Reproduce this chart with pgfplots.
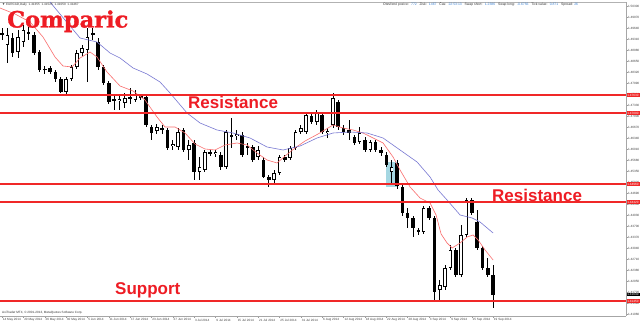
\documentclass[border=0pt]{standalone}
\usepackage{fontspec}
\setmainfont{Liberation Sans}
\newfontfamily\logofont[BoldFeatures={FakeBold=1.2}]{DejaVu Serif}
\usepackage{pgfplots}
\usepackage{pgfplotstable}
\pgfplotsset{compat=1.18}
\definecolor{mtred}{RGB}{238,28,36}
\definecolor{lvl}{RGB}{240,40,40}
\definecolor{maRed}{RGB}{250,110,110}
\definecolor{maBlue}{RGB}{120,120,210}
\definecolor{hl}{RGB}{150,208,222}
\definecolor{hdrblue}{RGB}{60,130,210}

% bearish candles: i open high low close
\pgfplotstableread{
i o h l c
0 1.4949 1.4964 1.4928 1.4943
2 1.4934 1.4949 1.4877 1.4889
5 1.4952 1.4967 1.4928 1.4946
6 1.4943 1.4952 1.4883 1.4889
7 1.4892 1.4898 1.4832 1.4838
8 1.48395 1.4850 1.4826 1.48365
9 1.4844 1.4850 1.4826 1.4832
10 1.4832 1.4838 1.4802 1.4811
11 1.4811 1.4817 1.4769 1.4772
17 1.4949 1.4964 1.4928 1.4943
18 1.4922 1.4934 1.4838 1.4847
19 1.4847 1.4853 1.4793 1.4799
20 1.4799 1.4805 1.4736 1.4742
21 1.4751 1.4763 1.4718 1.4745
24 1.4757 1.4784 1.4736 1.4751
26 1.4760 1.4766 1.4748 1.4754
27 1.4757 1.4763 1.4667 1.4673
28 1.4667 1.4673 1.4628 1.4649
30 1.4664 1.4673 1.4646 1.4658
31 1.4658 1.4664 1.4598 1.4604
34 1.4658 1.4664 1.4592 1.4598
36 1.4619 1.4628 1.4508 1.4532
39 1.4592 1.4598 1.4580 1.4586
41 1.4583 1.4592 1.4538 1.4547
43 1.4643 1.4694 1.4604 1.4637
45 1.4643 1.4652 1.4577 1.4583
46 1.4610 1.4619 1.4583 1.4604
47 1.4607 1.4613 1.4562 1.4568
49 1.4568 1.4577 1.4514 1.4517
50 1.4517 1.4523 1.4487 1.4508
53 1.4577 1.4583 1.4562 1.4568
58 1.4700 1.4712 1.4676 1.4682
60 1.4703 1.4712 1.4646 1.4652
63 1.4742 1.4748 1.4658 1.4667
64 1.4664 1.4673 1.4643 1.4652
65 1.4658 1.4688 1.4628 1.4649
66 1.4637 1.4643 1.4613 1.4619
68 1.4628 1.4637 1.4592 1.4598
70 1.4622 1.4628 1.4592 1.4598
71 1.4598 1.4607 1.4580 1.4589
72 1.4583 1.4592 1.4547 1.4553
74 1.4559 1.4568 1.4481 1.4490
75 1.4487 1.4493 1.4400 1.4409
76 1.4409 1.4424 1.4364 1.4394
77 1.4394 1.4400 1.4337 1.4364
78 1.4358 1.4364 1.4343 1.4352
80 1.4424 1.4430 1.4388 1.4394
81 1.4394 1.4400 1.4142 1.4172
85 1.4298 1.4304 1.4217 1.4223
88 1.4448 1.4454 1.4403 1.4409
89 1.4382 1.4418 1.4298 1.4304
90 1.4304 1.4310 1.4238 1.4244
91 1.4244 1.4274 1.4217 1.4223
92 1.4223 1.4253 1.4124 1.4163
}\bear

% bullish candles: i open high low close
\pgfplotstableread{
i o h l c
1 1.4913 1.4964 1.4859 1.4943
3 1.4892 1.4958 1.4874 1.4937
4 1.4922 1.4973 1.4907 1.4958
12 1.4772 1.4817 1.4763 1.4811
13 1.4811 1.4853 1.4805 1.4847
14 1.4847 1.4898 1.4841 1.4889
15 1.4889 1.4913 1.4880 1.4904
16 1.4898 1.4964 1.4802 1.4937
22 1.4745 1.4760 1.4718 1.4751
23 1.4739 1.4769 1.4724 1.4754
25 1.4748 1.4778 1.4742 1.4763
29 1.4655 1.4676 1.4646 1.4667
32 1.4610 1.4628 1.4598 1.4616
33 1.4607 1.4664 1.4598 1.4652
35 1.4598 1.4628 1.4568 1.4613
37 1.4532 1.4577 1.4508 1.4547
38 1.4538 1.4598 1.4532 1.4592
40 1.4586 1.4598 1.4577 1.4592
42 1.4547 1.4658 1.4541 1.4652
44 1.4640 1.4658 1.4628 1.4646
48 1.4577 1.4610 1.4568 1.4598
51 1.4508 1.4538 1.4499 1.4529
52 1.4529 1.4583 1.4523 1.4577
54 1.4574 1.4610 1.4568 1.4604
55 1.4604 1.4658 1.4598 1.4652
56 1.4652 1.4673 1.4646 1.4664
57 1.4652 1.4712 1.4646 1.4703
59 1.4682 1.4718 1.4673 1.4709
61 1.4649 1.4664 1.4634 1.4655
62 1.4673 1.4769 1.4664 1.4754
67 1.4622 1.4667 1.4616 1.4649
69 1.4598 1.4628 1.4592 1.4622
73 1.4532 1.4568 1.4493 1.4547
79 1.4352 1.4430 1.4346 1.4424
82 1.4178 1.4208 1.4148 1.4193
83 1.4187 1.4253 1.4178 1.4244
84 1.4244 1.4313 1.4238 1.4298
86 1.4223 1.4373 1.4217 1.4343
87 1.4343 1.4454 1.4337 1.4448
}\bull

\begin{document}
\begin{tikzpicture}
\useasboundingbox (0pt,0pt) rectangle (640pt,323pt);
\fill[white] (0pt,0pt) rectangle (640pt,323pt);
\begin{axis}[
  scale only axis, width=626pt, height=314pt,
  anchor=south west, at={(0pt,7pt)},
  xmin=-0.375, xmax=116.9, ymin=1.4100, ymax=1.5042,
  clip mode=individual,
  axis line style={draw=gray!70, line width=0.6pt},
  axis y line*=right, axis x line*=bottom,
  yticklabel pos=right,
  tick align=outside, major tick length=2pt,
  tick style={gray!80, line width=0.4pt},
  ytick={1.5030,1.4997,1.4964,1.4931,1.4898,1.4865,1.4832,1.4799,1.4766,1.4733,1.4700,1.4667,1.4634,1.4601,1.4568,1.4535,1.4502,1.4469,1.4436,1.4403,1.4370,1.4337,1.4304,1.4271,1.4238,1.4205,1.4172,1.4139,1.4106},
  yticklabel style={font=\fontsize{3.1}{3.5}\selectfont, text=black!75, inner sep=0.4pt, xshift=-0.6pt,
    /pgf/number format/.cd, fixed, precision=5, zerofill, assume math mode=true},
  xtick={0,4,...,92},
  xticklabels={14 May 2014,20 May 2014,26 May 2014,30 May 2014,5 Jun 2014,11 Jun 2014,17 Jun 2014,23 Jun 2014,27 Jun 2014,3 Jul 2014,9 Jul 2014,15 Jul 2014,21 Jul 2014,25 Jul 2014,31 Jul 2014,6 Aug 2014,12 Aug 2014,18 Aug 2014,22 Aug 2014,28 Aug 2014,3 Sep 2014,9 Sep 2014,15 Sep 2014,19 Sep 2014},
  xticklabel style={font=\fontsize{3.1}{3.5}\selectfont, text=black!75, anchor=north west, inner sep=0.4pt, xshift=0.3pt, yshift=-0.2pt},
]
% top frame line
\addplot[gray!60, line width=0.6pt, forget plot] coordinates {(-0.375,1.5040) (116.9,1.5040)};
% highlight box
\addplot[fill=hl, draw=none, opacity=0.85, forget plot] coordinates {(71.95,1.4562) (74.05,1.4562) (74.05,1.4487) (71.95,1.4487)} -- cycle;
% wicks
\addplot[draw=none, mark=none, forget plot, error bars/.cd, y dir=plus, y explicit, error mark=none,
  error bar style={solid, draw=black, line width=0.9pt}]
  table[x=i, y=l, y error plus expr=\thisrow{h}-\thisrow{l}] {\bear};
\addplot[draw=none, mark=none, forget plot, error bars/.cd, y dir=plus, y explicit, error mark=none,
  error bar style={solid, draw=black, line width=0.9pt}]
  table[x=i, y=l, y error plus expr=\thisrow{h}-\thisrow{l}] {\bull};
% bear bodies
\addplot[draw=none, mark=none, forget plot, error bars/.cd, y dir=plus, y explicit, error mark=none,
  error bar style={solid, draw=black, line width=3.6pt}]
  table[x=i, y=c, y error plus expr=\thisrow{o}-\thisrow{c}] {\bear};
% bull bodies (outline + white fill)
\addplot[draw=none, mark=none, forget plot, error bars/.cd, y dir=plus, y explicit, error mark=none,
  error bar style={solid, draw=black, line width=3.6pt}]
  table[x=i, y=o, y error plus expr=\thisrow{c}-\thisrow{o}] {\bull};
\addplot[draw=none, mark=none, forget plot, error bars/.cd, y dir=plus, y explicit, error mark=none,
  error bar style={solid, draw=white, line width=2.0pt}]
  table[x=i, y expr=\thisrow{o}+0.00024, y error plus expr=\thisrow{c}-\thisrow{o}-0.00048] {\bull};
% moving averages
\addplot[maRed, line width=0.6pt, forget plot] coordinates {
(-0.37,1.5024) (2.44,1.5006) (5.25,1.4982) (7.68,1.4937) (9.93,1.4877) (11.43,1.4850) (13.12,1.4847)
(14.62,1.4874) (16.49,1.4892) (17.80,1.4877) (19.67,1.4832) (22.11,1.4790) (24.55,1.4775) (26.79,1.4748)
(29.04,1.4697) (30.54,1.4667) (32.42,1.4667) (34.29,1.4649) (36.16,1.4616) (38.04,1.4601) (39.91,1.4598)
(41.78,1.4613) (44.03,1.4619) (45.91,1.4613) (47.78,1.4589) (49.65,1.4568) (51.53,1.4559) (53.03,1.4580)
(54.90,1.4604) (56.77,1.4625) (59.21,1.4646) (62.02,1.4673) (63.89,1.4664) (65.77,1.4658) (67.64,1.4649)
(69.52,1.4634) (71.39,1.4619) (73.26,1.4577) (74.57,1.4538) (76.45,1.4487) (78.32,1.4454) (80.19,1.4439)
(81.32,1.4403) (82.26,1.4346) (83.38,1.4319) (84.32,1.4304) (85.82,1.4319) (87.13,1.4337) (88.25,1.4343)
(89.19,1.4328) (90.50,1.4298) (92.00,1.4268)};
\addplot[maBlue, line width=0.6pt, forget plot] coordinates {
(8.99,1.5042) (11.80,1.4988) (14.62,1.4934) (17.80,1.4922) (20.24,1.4889) (22.11,1.4874) (24.55,1.4844)
(27.17,1.4826) (29.60,1.4802) (31.48,1.4769) (34.66,1.4709) (37.10,1.4679) (40.28,1.4658) (43.28,1.4649)
(46.47,1.4634) (49.65,1.4607) (52.65,1.4598) (55.84,1.4610) (59.02,1.4634) (62.02,1.4649) (65.20,1.4652)
(68.39,1.4649) (71.39,1.4634) (74.57,1.4598) (77.76,1.4562) (80.19,1.4517) (81.69,1.4478) (83.38,1.4448)
(85.82,1.4403) (88.07,1.4394) (89.56,1.4382) (92.00,1.4349)};
% horizontal levels
\addplot[lvl, line width=1.1pt, forget plot] coordinates {(-0.375,1.4763) (116.9,1.4763)};
\addplot[lvl, line width=1.1pt, forget plot] coordinates {(-0.375,1.4709) (116.9,1.4709)};
\addplot[lvl, line width=1.1pt, forget plot] coordinates {(-0.375,1.4496) (116.9,1.4496)};
\addplot[lvl, line width=1.1pt, forget plot] coordinates {(-0.375,1.4442) (116.9,1.4442)};
\addplot[lvl, line width=1.1pt, forget plot] coordinates {(-0.375,1.4145) (116.9,1.4145)};
% price labels on the scale
\begin{scope}[every node/.style={anchor=west, font=\fontsize{3.1}{3.5}\selectfont, text=white, inner xsep=0.6pt, inner ysep=0.5pt, minimum width=13pt, xshift=0.3pt}]
\node[fill=lvl] at (axis cs:116.9,1.4763) {1.47630};
\node[fill=lvl] at (axis cs:116.9,1.4709) {1.47090};
\node[fill=lvl] at (axis cs:116.9,1.4496) {1.44960};
\node[fill=lvl] at (axis cs:116.9,1.4442) {1.44420};
\node[fill=black] at (axis cs:116.9,1.4164) {1.41640};
\node[fill=lvl] at (axis cs:116.9,1.4145) {1.41450};
\end{scope}
\end{axis}
% overlay texts
\node[anchor=base west, inner sep=0pt, text=mtred, font=\logofont\bfseries\fontsize{22.5}{22.5}\selectfont] at (7pt,295.5pt) {Comparic};
\node[anchor=base west, inner sep=0pt, text=mtred, font=\bfseries\fontsize{17}{17}\selectfont] at (188pt,214.5pt) {Resistance};
\node[anchor=base west, inner sep=0pt, text=mtred, font=\bfseries\fontsize{17}{17}\selectfont] at (492pt,121.5pt) {Resistance};
\node[anchor=base west, inner sep=0pt, text=mtred, font=\bfseries\fontsize{17}{17}\selectfont] at (115pt,28pt) {Support};
\node[anchor=west, inner sep=0pt, font=\fontsize{3.1}{3.5}\selectfont, text=black!80] at (2pt,318.5pt) {▼ EURCAD,Daily \ 1.41355 \ 1.41525 \ 1.41050 \ 1.41467};
\node[anchor=west, inner sep=0pt, font=\fontsize{3.4}{3.8}\selectfont, text=black!80] at (383pt,318.5pt)
  {Otevřené pozice: \ \textcolor{hdrblue}{772} \ \ Zisk: \ \textcolor{hdrblue}{1467} \ \ Čas: \ \textcolor{hdrblue}{22:53:13} \ \ Swap short: \ \textcolor{hdrblue}{1.2386} \ \ Swap long: \ \textcolor{hdrblue}{-0.6756} \ \ Tick value: \ \textcolor{hdrblue}{0.871} \ \ Spread: \textcolor{hdrblue}{26}};
\node[anchor=west, inner sep=0pt, font=\fontsize{3.1}{3.5}\selectfont, text=black!80] at (2pt,10.5pt) {AxiTrader MT4, © 2001-2013, MetaQuotes Software Corp.};
\end{tikzpicture}
\end{document}
